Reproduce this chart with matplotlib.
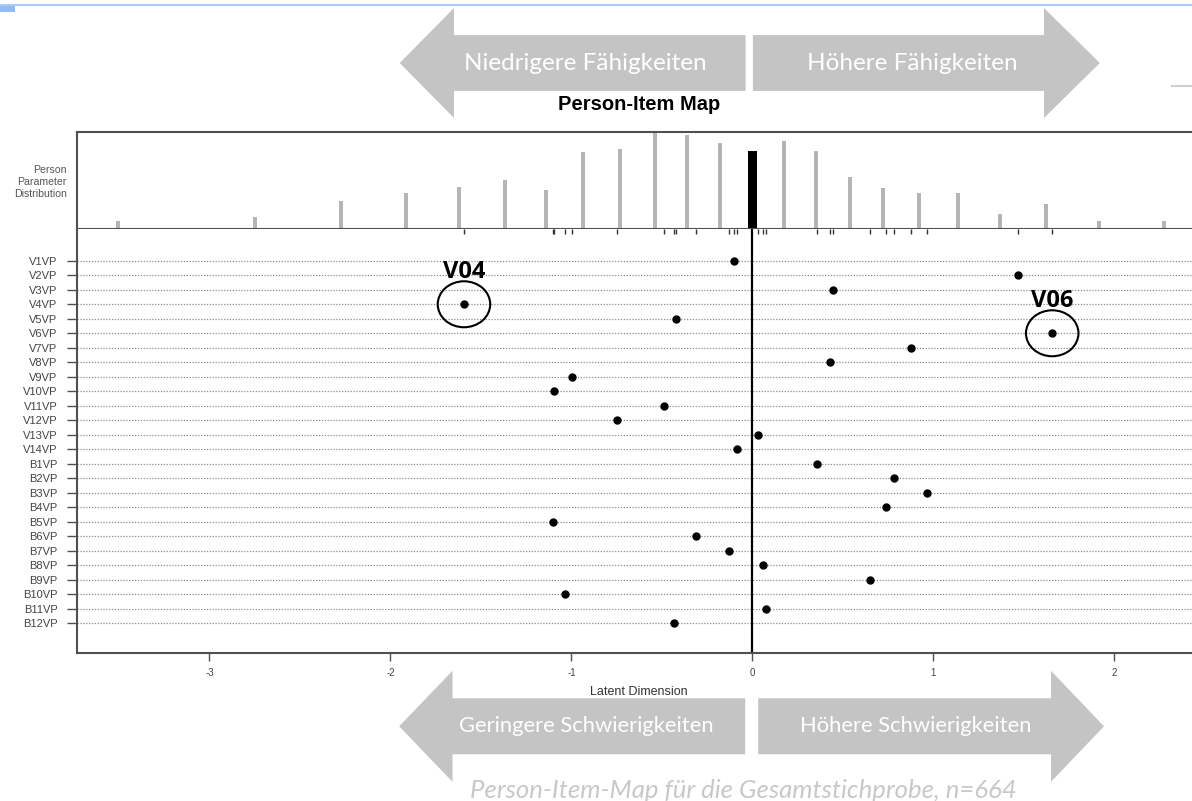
import matplotlib
matplotlib.use("Agg")
import matplotlib.pyplot as plt
import matplotlib.transforms as mtransforms
from matplotlib.patches import Ellipse, Polygon, Rectangle

plt.rcParams["axes.unicode_minus"] = False
plt.rcParams["font.family"] = ["Liberation Sans", "DejaVu Sans"]

# item difficulties (latent dimension), top to bottom
items = ["V1VP", "V2VP", "V3VP", "V4VP", "V5VP", "V6VP", "V7VP", "V8VP", "V9VP",
         "V10VP", "V11VP", "V12VP", "V13VP", "V14VP", "B1VP", "B2VP", "B3VP",
         "B4VP", "B5VP", "B6VP", "B7VP", "B8VP", "B9VP", "B10VP", "B11VP", "B12VP"]
item_locs = [-0.10, 1.465, 0.446, -1.594, -0.424, 1.656, 0.877, 0.427, -0.999,
             -1.097, -0.491, -0.747, 0.029, -0.084, 0.358, 0.782, 0.962,
             0.736, -1.102, -0.310, -0.130, 0.058, 0.649, -1.034, 0.075, -0.434]

# person parameter distribution
pp_locs = [-3.504, -2.747, -2.273, -1.915, -1.620, -1.369, -1.143, -0.934, -0.730,
           -0.541, -0.361, -0.181, 0.173, 0.351, 0.537, 0.723, 0.920, 1.135,
           1.370, 1.622, 1.916, 2.273]
pp_counts = [5, 8, 18, 23, 27, 31, 25, 49, 51, 61, 60, 55, 56, 50, 33, 26, 23, 23,
             10, 16, 5, 5]
zero_bar_height = 50

circled = [("V04", "V4VP"), ("V06", "V6VP")]

W, H = 1192, 801
XLIM = (-3.732, 2.478)
ARROW_GREY = "#c4c4c4"
FRAME = "#505050"


def px_box(x0, y0, x1, y1):
    return [x0 / W, 1 - y1 / H, (x1 - x0) / W, (y1 - y0) / H]


def block_arrow(ax, tail, tip, yc, body_half, head_half, head_len, label, text_x,
                fontsize):
    d = 1 if tip > tail else -1
    neck = tip - d * head_len
    pts = [(tail, yc - body_half), (neck, yc - body_half), (neck, yc - head_half),
           (tip, yc), (neck, yc + head_half), (neck, yc + body_half),
           (tail, yc + body_half)]
    ax.add_patch(Polygon(pts, closed=True, color=ARROW_GREY, lw=0))
    ax.text(text_x, yc, label, color="white", fontsize=fontsize,
            ha="center", va="center", family="Lato")


fig = plt.figure(figsize=(W / 100, H / 100), dpi=100)

# top panel: person parameter distribution
ax_top = fig.add_axes(px_box(77, 131.7, 1201, 229.3))
ax_top.bar(pp_locs, pp_counts, width=0.022, color="#b5b5b5")
ax_top.bar([0], [zero_bar_height], width=0.051, color="black")
ax_top.set_xlim(XLIM)
ax_top.set_ylim(0, 62)
ax_top.set_xticks([])
ax_top.set_yticks([])
ax_top.spines["right"].set_visible(False)
for s in ["top", "left", "bottom"]:
    ax_top.spines[s].set_color(FRAME)
    ax_top.spines[s].set_linewidth(1.5)
fig.text(66.7 / W, 1 - 182 / H, "Person\nParameter\nDistribution", ha="right",
         va="center", fontsize=7.6, color="#555555", linespacing=1.3)

# lower panel: item map
ax = fig.add_axes(px_box(77, 229.3, 1201, 653))
rows = list(range(len(items), 0, -1))
for r in rows:
    ax.axhline(r, color="#8c8c8c", lw=0.9, ls=(0, (1, 1.3)), zorder=1)
ax.axvline(0, color="black", lw=1.6, zorder=2)
ax.plot(item_locs, rows, "o", color="black", ms=5, zorder=3)

trans = mtransforms.blended_transform_factory(ax.transData, ax.transAxes)
ax.vlines(item_locs, 1 - 5 / 423.7, 1, transform=trans, color="#333333", lw=1)

for label, name in circled:
    i = items.index(name)
    x, y = item_locs[i], rows[i]
    ax.add_patch(Ellipse((x, y), 0.29, 3.17, fill=False, ec="black", lw=1.5, zorder=4))
    ax.annotate(label, (x, y), xytext=(0, 23), textcoords="offset points",
                ha="center", va="center", fontsize=17, fontweight="bold",
                family="Open Sans")

ax.set_xlim(XLIM)
ax.set_ylim(-1.05, len(items) + 2.17)
ax.set_yticks(rows)
ax.set_yticklabels(items)
ax.set_xticks([-3, -2, -1, 0, 1, 2])
ax.tick_params(axis="y", length=7, width=1, color=FRAME, labelsize=8,
               labelcolor="#444444", pad=7)
ax.tick_params(axis="x", length=5.5, width=1, color=FRAME, labelsize=7,
               labelcolor="#444444", pad=5)
ax.spines["right"].set_visible(False)
ax.spines["top"].set_visible(False)
for s in ["left", "bottom"]:
    ax.spines[s].set_color(FRAME)
    ax.spines[s].set_linewidth(1.5)
ax.set_xlabel("Latent Dimension", fontsize=9, color="#333333", labelpad=6)

fig.text(639 / W, 1 - 104 / H, "Person-Item Map", ha="center", va="center",
         fontsize=14.5, fontweight="bold")

# overlay with the annotation arrows
ov = fig.add_axes([0, 0, 1, 1], zorder=10)
ov.set_xlim(0, W)
ov.set_ylim(H, 0)
ov.axis("off")
ov.patch.set_alpha(0)

block_arrow(ov, 745.6, 399.7, 63, 27.9, 55, 54.3, "Niedrigere Fähigkeiten", 585, 17.5)
block_arrow(ov, 752.9, 1099.8, 63, 27.9, 55, 55.8, "Höhere Fähigkeiten", 912, 17.5)
block_arrow(ov, 745.2, 399.2, 726.3, 28, 55.5, 53.3, "Geringere Schwierigkeiten", 586, 15.8)
block_arrow(ov, 758.2, 1104, 726.3, 28, 55.5, 53, "Höhere Schwierigkeiten", 916, 15.8)

ov.plot([0, W], [5.3, 5.3], color="#a9cbf5", lw=1.5)
ov.add_patch(Rectangle((0, 5), 15, 7, color="#92bcf5", lw=0))
ov.plot([1172, W], [86, 86], color="#d0d0d0", lw=1.5)

ov.text(743, 790, "Person-Item-Map für die Gesamtstichprobe, n=664", color="#c8c8c8",
        fontsize=18.5, style="italic", ha="center", va="center", family="Lato")

fig.savefig("out.png", dpi=100)
